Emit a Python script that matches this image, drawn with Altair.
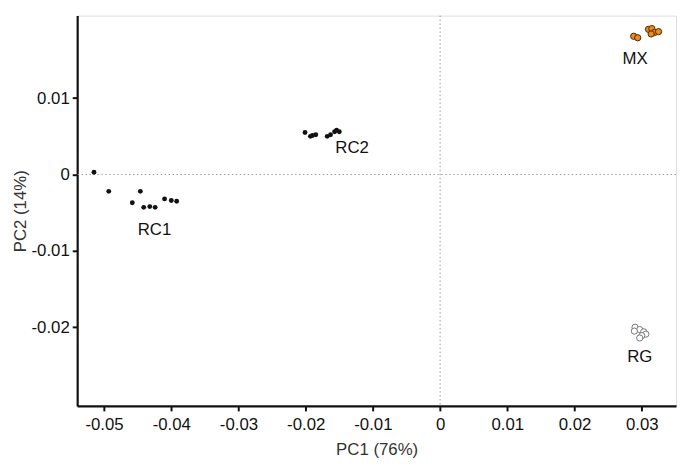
import altair as alt
import pandas as pd

# PC scores
rc1_x = [-0.0515, -0.0493, -0.0446, -0.0458, -0.0441, -0.0432, -0.0424, -0.0410, -0.0400, -0.0392]
rc1_y = [0.0003, -0.0022, -0.0022, -0.0037, -0.0043, -0.0042, -0.0043, -0.0032, -0.0034, -0.0035]
rc2_x = [-0.0201, -0.0193, -0.0190, -0.0185, -0.0168, -0.0163, -0.0157, -0.0154, -0.0150]
rc2_y = [0.0055, 0.0050, 0.0051, 0.0052, 0.0050, 0.0052, 0.0056, 0.0058, 0.0056]
mx_x = [0.0288, 0.0294, 0.0310, 0.0315, 0.0319, 0.0325, 0.0314]
mx_y = [0.0181, 0.0179, 0.0190, 0.0191, 0.0186, 0.0187, 0.0184]
rg_x = [0.0290, 0.0297, 0.0303, 0.0306, 0.0300, 0.0297, 0.0289]
rg_y = [-0.0200, -0.0203, -0.0206, -0.0209, -0.0211, -0.0214, -0.0205]

label_text = ["RC1", "RC2", "MX", "RG"]
label_x = [-0.0425, -0.0131, 0.0290, 0.0297]
label_y = [-0.0073, 0.0034, 0.0151, -0.0239]

x_ticks = [-0.05, -0.04, -0.03, -0.02, -0.01, 0, 0.01, 0.02, 0.03]
y_ticks = [0.01, 0, -0.01, -0.02]
x_domain = [-0.0540, 0.0351]
y_domain = [-0.0303, 0.0208]

dark = pd.DataFrame({"x": rc1_x + rc2_x, "y": rc1_y + rc2_y})
mx = pd.DataFrame({"x": mx_x, "y": mx_y})
rg = pd.DataFrame({"x": rg_x, "y": rg_y})
labels = pd.DataFrame({"x": label_x, "y": label_y, "t": label_text})
zero = pd.DataFrame({"v": [0]})

FONT = "Liberation Sans"

xs = alt.Scale(domain=x_domain, nice=False, zero=False)
ys = alt.Scale(domain=y_domain, nice=False, zero=False)

xaxis = alt.Axis(values=x_ticks, labelExpr="'' + datum.value", title="PC1 (76%)",
                 grid=False, domainColor="#111", domainWidth=2.2, tickColor="#111",
                 tickWidth=2, tickSize=5, labelFont=FONT, labelFontSize=17,
                 labelColor="#111", labelPadding=6, titleFont=FONT, titleFontSize=17,
                 titleFontWeight="normal", titleColor="#333", titlePadding=9)
yaxis = alt.Axis(values=y_ticks, labelExpr="'' + datum.value", title="PC2 (14%)",
                 grid=False, domainColor="#111", domainWidth=2.2, tickColor="#111",
                 tickWidth=2, tickSize=5, labelFont=FONT, labelFontSize=17,
                 labelColor="#111", labelPadding=3, titleFont=FONT, titleFontSize=17,
                 titleFontWeight="normal", titleColor="#333", titlePadding=2)

vline = alt.Chart(zero).mark_rule(color="#999", strokeDash=[1.5, 2.5], strokeWidth=1).encode(
    x=alt.X("v:Q", scale=xs, axis=xaxis))
hline = alt.Chart(zero).mark_rule(color="#999", strokeDash=[1.5, 2.5], strokeWidth=1).encode(
    y=alt.Y("v:Q", scale=ys, axis=yaxis))

pts_dark = alt.Chart(dark).mark_circle(size=24, color="#111", opacity=1).encode(
    x=alt.X("x:Q", scale=xs), y=alt.Y("y:Q", scale=ys))
pts_mx = alt.Chart(mx).mark_point(size=40, filled=True, fill="#ee8a1c", stroke="#4a2a08",
                                  strokeWidth=1, opacity=1).encode(
    x=alt.X("x:Q", scale=xs), y=alt.Y("y:Q", scale=ys))
pts_rg = alt.Chart(rg).mark_point(size=40, fill="white", filled=False, stroke="#777",
                                  strokeWidth=1, opacity=1).encode(
    x=alt.X("x:Q", scale=xs), y=alt.Y("y:Q", scale=ys))
txt = alt.Chart(labels).mark_text(font=FONT, fontSize=17, color="#111").encode(
    x=alt.X("x:Q", scale=xs), y=alt.Y("y:Q", scale=ys), text="t:N")

chart = alt.layer(vline, hline, pts_dark, pts_mx, pts_rg, txt).properties(
    width=606, height=395,
    autosize=alt.AutoSizeParams(type="none"),
    padding={"left": 70, "top": 5, "right": 3, "bottom": 53},
).configure_view(stroke=None).configure(background="white")

chart.save("out.html", embed_options={"renderer": "svg", "actions": False})
